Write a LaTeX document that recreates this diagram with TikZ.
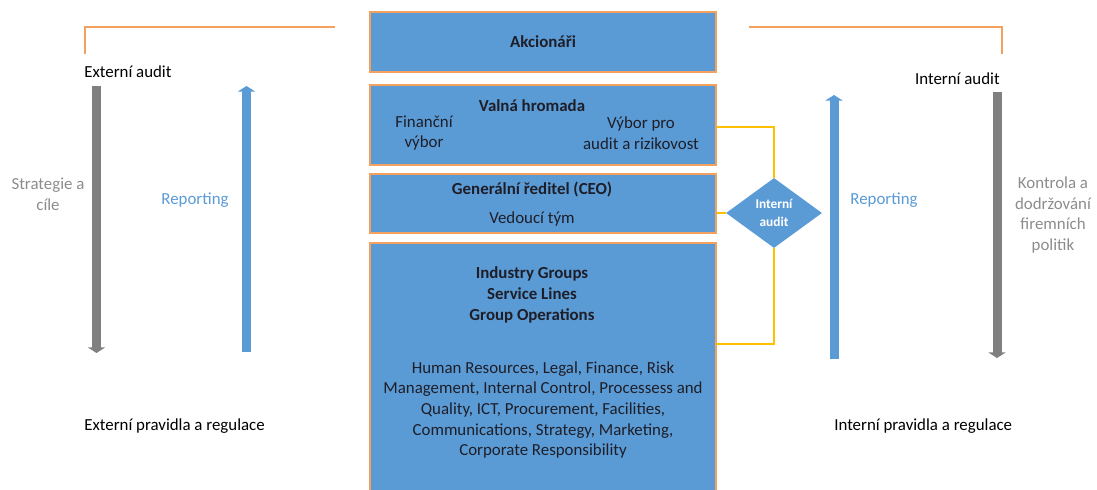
\documentclass[tikz,border=0pt]{standalone}
\usepackage{fontspec}
\setmainfont{Carlito}
\usepackage{tikz}
\usetikzlibrary{arrows.meta,shapes.geometric,positioning}

\definecolor{boxblue}{RGB}{91,155,213}
\definecolor{boxedge}{RGB}{244,160,95}
\definecolor{linkgold}{RGB}{255,192,0}
\definecolor{bargrey}{RGB}{128,128,128}
\definecolor{labelgrey}{RGB}{140,140,140}
\definecolor{inktext}{RGB}{30,30,40}

\begin{document}
\begin{tikzpicture}[x=0.025cm,y=-0.025cm,
    font=\fontsize{12}{14.7}\selectfont,
    level/.style={rectangle,draw=boxedge,line width=1.2pt,fill=boxblue,minimum width=8.65cm,inner sep=0pt,text=inktext},
    boxtext/.style={text=inktext,align=center,inner sep=0pt},
    conn/.style={linkgold,line width=0.8pt},
    bracket/.style={boxedge,line width=0.8pt},
    greybar/.style={bargrey,line width=0.225cm,-{Triangle[width=0.43cm,length=0.14cm]}},
    bluebar/.style={boxblue,line width=0.225cm,-{Triangle[width=0.43cm,length=0.14cm]}}
]
\clip (0,0) rectangle (1097,490);

% === Audit brackets (top) ===
\draw[bracket] (85,54) -- (85,27) -- (335,27);
\draw[bracket] (749,27) -- (1002,27) -- (1002,54);

% === Central stack ===
\node[level,minimum height=1.5cm] (akc) at (543,42) {\textbf{Akcionáři}};
\node[level,minimum height=2cm] (valna) at (543,125) {};
\node[level,minimum height=1.475cm] (ceo) at (543,203.5) {};
\node[level,minimum height=6.3cm] (ops) at (543,369) {};

% Valná hromada contents
\node[boxtext,font=\fontsize{12}{14.7}\selectfont\bfseries] (vh) at (532,106) {Valná hromada};
\node[boxtext] (fin) at (424,133) {Finanční\\výbor};
\node[boxtext] (vyb) at (641,133) {Výbor pro\\audit a rizikovost};

% CEO contents
\node[boxtext,font=\fontsize{12}{14.7}\selectfont\bfseries] (gr) at (532,190) {Generální ředitel (CEO)};
\node[boxtext] (vt) at (532,219) {Vedoucí tým};

% Operations contents
\node[boxtext,font=\fontsize{12}{14.7}\selectfont\bfseries] (grp) at (532,295) {Industry Groups\\Service Lines\\Group Operations};
\node[boxtext] (func) at (543,410) {Human Resources, Legal, Finance, Risk\\
    Management, Internal Control, Processess and\\
    Quality, ICT, Procurement, Facilities,\\
    Communications, Strategy, Marketing,\\
    Corporate Responsibility};

% === Internal audit diamond ===
\node[diamond,fill=boxblue,inner sep=0pt,minimum width=2.4cm,minimum height=1.75cm,
      text=white,align=center,font=\fontsize{9.5}{12.5}\selectfont\bfseries] (ia) at (774,213) {Interní\\audit};

\coordinate (opsjoin) at (716,344);
\draw[conn] (valna.east |- 0,127) -| (ia.north);
\draw[conn] (ceo.east |- ia.west) -- (ia.west);
\draw[conn] (opsjoin) -| (ia.south);

% === External side (left) ===
\node[anchor=west,inner sep=0pt,text=black] (extaud) at (84,72) {Externí audit};
\coordinate (g1top) at (96.5,86);
\coordinate (g1bot) at (96.5,353);
\draw[greybar] (g1top) -- (g1bot);
\node[align=center,text=labelgrey,inner sep=0pt] (strat) at (48,194) {Strategie a\\cíle};

\coordinate (b1bot) at (246.5,352);
\coordinate (b1top) at (246.5,86);
\draw[bluebar] (b1bot) -- (b1top);
\node[text=boxblue,inner sep=0pt] (rep1) at (195,200) {Reporting};

\node[anchor=west,inner sep=0pt,text=black] (extreg) at (84,426) {Externí pravidla a regulace};

% === Internal side (right) ===
\node[anchor=east,inner sep=0pt,text=black] (intaud) at (1000,79) {Interní audit};
\coordinate (b2bot) at (834,359);
\coordinate (b2top) at (834,95);
\draw[bluebar] (b2bot) -- (b2top);
\node[text=boxblue,inner sep=0pt] (rep2) at (884,200) {Reporting};

\coordinate (g2top) at (997,92);
\coordinate (g2bot) at (997,358);
\draw[greybar] (g2top) -- (g2bot);
\node[align=center,text=labelgrey,inner sep=0pt] (kontr) at (1053,215) {Kontrola a\\dodržování\\firemních\\politik};

\node[anchor=west,inner sep=0pt,text=black] (intreg) at (834,426) {Interní pravidla a regulace};

\end{tikzpicture}
\end{document}
